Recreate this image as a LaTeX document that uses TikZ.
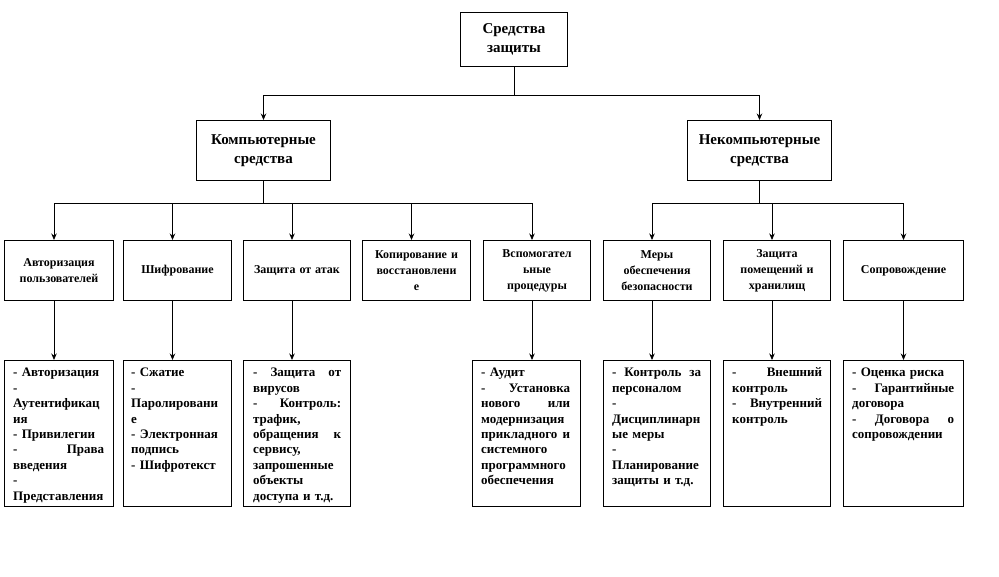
\documentclass[tikz,border=0pt]{standalone}
\usepackage{fontspec}
\setmainfont{Liberation Serif}
\usetikzlibrary{arrows.meta}
\newlength\cw
\newcommand\jl[1]{\makebox[\cw][s]{#1}}
\tikzset{
  ln/.style={line width=0.8pt},
  arr/.style={line width=0.8pt,-{Stealth[length=6.5pt,width=5.5pt]}},
  topbox/.style={draw,line width=1pt,anchor=north west,inner sep=2pt,align=center,
     font=\fontsize{15}{19}\selectfont\bfseries},
  midbox/.style={draw,line width=1pt,anchor=north west,inner sep=2pt,align=center,
     minimum height=60pt,font=\fontsize{12}{16}\selectfont\bfseries},
  lowbox/.style={draw,line width=1pt,anchor=north west,inner sep=0pt,
     minimum height=146pt},
  lowtext/.style={anchor=north west,inner sep=0pt,align=left,
     font=\fontsize{13}{15.4}\selectfont\bfseries}
}
\begin{document}
\begin{tikzpicture}[x=1pt,y=-1pt]
\useasboundingbox (0,0) rectangle (999,576);
% top levels
\node[topbox,minimum width=107pt,minimum height=54pt,text width=100pt] (top) at (460,12) {Средства\\защиты};
\node[topbox,minimum width=134pt,minimum height=60pt,text width=128pt] (komp) at (196,120) {Компьютерные\\средства};
\node[topbox,minimum width=144pt,minimum height=60pt,text width=138pt] (nekomp) at (687,120) {Некомпьютерные\\средства};
% middle boxes
\node[midbox,minimum width=109pt,text width=103pt] (m1) at (4,240) {Авторизация\\пользователей};
\node[midbox,minimum width=108pt,text width=102pt] (m2) at (123,240) {Шифрование};
\node[midbox,minimum width=107pt,text width=101pt] (m3) at (243,240) {Защита от атак};
\node[midbox,minimum width=108pt,text width=102pt] (m4) at (362,240) {Копирование и\\восстановлени\\е};
\node[midbox,minimum width=107pt,text width=101pt] (m5) at (483,240) {Вспомогател\\ьные\\процедуры};
\node[midbox,minimum width=107pt,text width=101pt] (m6) at (603,240) {Меры\\обеспечения\\безопасности};
\node[midbox,minimum width=107pt,text width=101pt] (m7) at (723,240) {Защита\\помещений и\\хранилищ};
\node[midbox,minimum width=120pt,text width=114pt] (m8) at (843,240) {Сопровождение};
% bottom boxes
\node[lowbox,minimum width=109pt] (b1) at (4,360) {};
\node[lowbox,minimum width=108pt] (b2) at (123,360) {};
\node[lowbox,minimum width=107pt] (b3) at (243,360) {};
\node[lowbox,minimum width=108pt] (b4) at (472,360) {};
\node[lowbox,minimum width=107pt] (b5) at (603,360) {};
\node[lowbox,minimum width=107pt] (b6) at (723,360) {};
\node[lowbox,minimum width=120pt] (b7) at (843,360) {};
\begin{scope}
\clip (b1.north west) rectangle (b1.south east);
\setlength\cw{91pt}
\node[lowtext,text width=\cw] (t1) at (13,366) {\strut- Авторизация\\-\\Аутентификац\\ия\\- Привилегии\\\jl{-\hfill Права}\\введения\\-\\Представления};
\end{scope}
\setlength\cw{91pt}
\node[lowtext,text width=\cw] (t2) at (131,366) {\strut- Сжатие\\-\\Паролировани\\е\\\jl{- Электронная}\\подпись\\- Шифротекст};
\begin{scope}
\clip (b3.north west) rectangle (b3.south east);
\setlength\cw{88pt}
\node[lowtext,text width=\cw] (t3) at (253,366) {\strut\jl{-\hfill Защита\hfill от}\\вирусов\\\jl{-\hfill Контроль:}\\трафик,\\\jl{обращения\hfill к}\\сервису,\\запрошенные\\объекты\\доступа и т.д.};
\end{scope}
\setlength\cw{89pt}
\node[lowtext,text width=\cw] (t4) at (481,366) {\strut- Аудит\\\jl{-\hfill Установка}\\\jl{нового\hfill или}\\модернизация\\\jl{прикладного\hfill и}\\системного\\программного\\обеспечения};
\setlength\cw{89pt}
\node[lowtext,text width=\cw] (t5) at (612,366) {\strut\jl{-\hfill Контроль\hfill за}\\персоналом\\-\\Дисциплинарн\\ые меры\\-\\Планирование\\защиты и т.д.};
\setlength\cw{90pt}
\node[lowtext,text width=\cw] (t6) at (732,366) {\strut\jl{-\hfill Внешний}\\контроль\\\jl{-\hfill Внутренний}\\контроль};
\setlength\cw{102pt}
\node[lowtext,text width=\cw] (t7) at (852,366) {\strut- Оценка риска\\\jl{-\hfill Гарантийные}\\договора\\\jl{-\hfill Договора\hfill о}\\сопровождении};
% connectors
\coordinate (j0) at (0,95);
\coordinate (j1) at (0,203);
\draw[ln] (top.south) -- (top.south |- j0);
\draw[arr] (top.south |- j0) -| (komp.north);
\draw[arr] (top.south |- j0) -| (nekomp.north);
\draw[ln] (komp.south) -- (komp.south |- j1);
\draw[ln] (nekomp.south) -- (nekomp.south |- j1);
\foreach \m in {m1,m2,m3,m4,m5}
  \draw[arr] (komp.south |- j1) -| ([xshift=-5pt]\m.north);
\foreach \m in {m6,m7}
  \draw[arr] (nekomp.south |- j1) -| ([xshift=-5pt]\m.north);
\draw[arr] (nekomp.south |- j1) -| (m8.north);
\draw[arr] ([xshift=-5pt]m1.south) -- ([xshift=-5pt]m1.south |- b1.north);
\draw[arr] ([xshift=-5pt]m2.south) -- ([xshift=-5pt]m2.south |- b2.north);
\draw[arr] ([xshift=-5pt]m3.south) -- ([xshift=-5pt]m3.south |- b3.north);
\draw[arr] ([xshift=-5pt]m5.south) -- ([xshift=-5pt]m5.south |- b4.north);
\draw[arr] ([xshift=-5pt]m6.south) -- ([xshift=-5pt]m6.south |- b5.north);
\draw[arr] ([xshift=-5pt]m7.south) -- ([xshift=-5pt]m7.south |- b6.north);
\draw[arr] (m8.south) -- (m8.south |- b7.north);
\end{tikzpicture}
\end{document}
